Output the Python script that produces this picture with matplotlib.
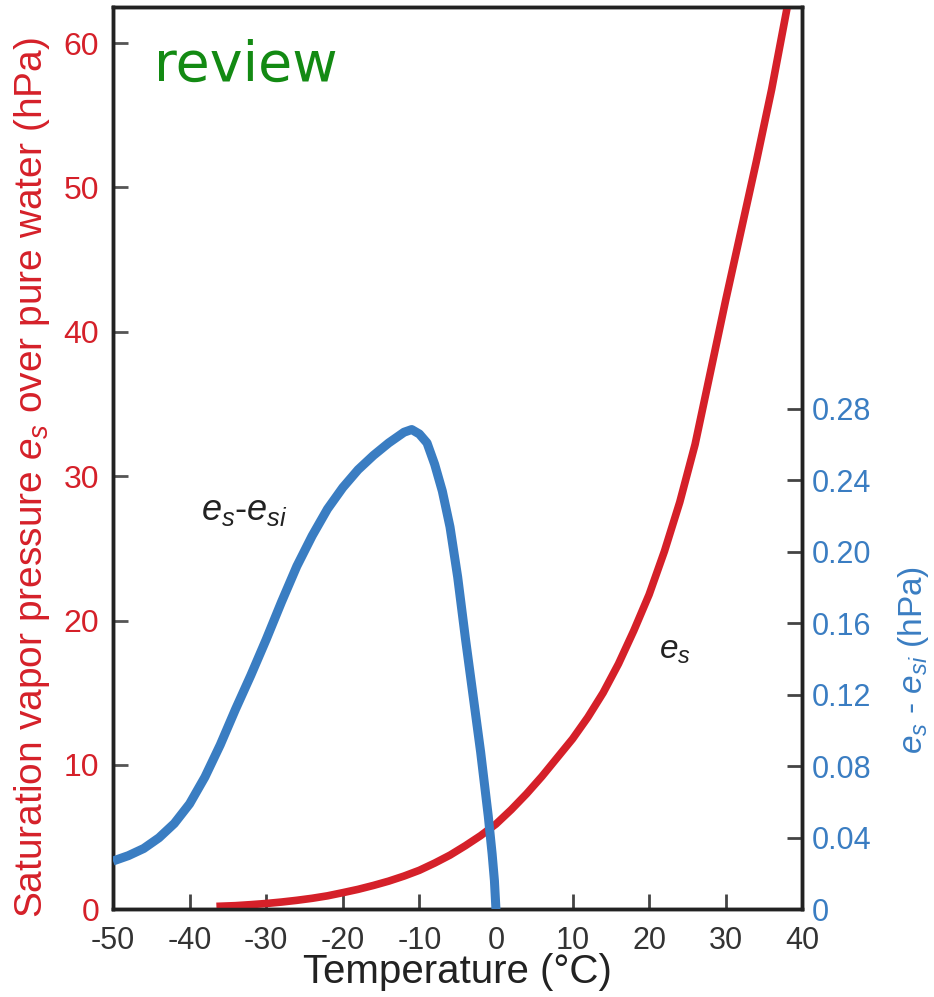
import numpy as np
import matplotlib
matplotlib.use('Agg')
import matplotlib.pyplot as plt

plt.rcParams['font.family'] = ['Liberation Sans Narrow', 'Liberation Sans', 'DejaVu Sans']
plt.rcParams['mathtext.fontset'] = 'custom'
plt.rcParams['mathtext.it'] = 'Liberation Sans:italic'
plt.rcParams['mathtext.rm'] = 'Liberation Sans'

# saturation vapour pressure over water (hPa)
temp_es = [-36.5, -34, -32, -30, -28, -26, -24, -22, -20, -18, -16, -14, -12, -10,
           -8, -6, -4, -2, 0, 2, 4, 6, 8, 10, 12, 14, 16, 18, 20, 22, 24, 26,
           28, 30, 32, 34, 36, 38]
es = [0.2, 0.25, 0.32, 0.4, 0.5, 0.62, 0.76, 0.93, 1.15, 1.38, 1.65, 1.95, 2.3, 2.7,
      3.2, 3.75, 4.4, 5.1, 5.9, 6.9, 8.0, 9.2, 10.5, 11.8, 13.3, 15.0, 17.0, 19.3,
      21.8, 24.8, 28.2, 32.2, 37.2, 42.2, 47.0, 51.8, 56.8, 62.4]

# es - esi (hPa), right axis
temp_diff = [-50, -48, -46, -44, -42, -40, -38, -36, -34, -32, -30, -28, -26, -24,
             -22, -20, -18, -16, -14, -13, -12, -11, -10, -9, -8, -7, -6, -5, -4,
             -3, -2, -1.5, -1, -0.5, -0.2, 0]
diff = [0.027, 0.030, 0.034, 0.040, 0.048, 0.059, 0.074, 0.092, 0.112, 0.131, 0.151,
        0.172, 0.192, 0.209, 0.224, 0.236, 0.246, 0.254, 0.261, 0.264, 0.267, 0.2685,
        0.266, 0.261, 0.249, 0.234, 0.214, 0.186, 0.152, 0.120, 0.088, 0.070, 0.052,
        0.031, 0.016, 0.0]

xticks = [-50, -40, -30, -20, -10, 0, 10, 20, 30, 40]
yticks_left = [0, 10, 20, 30, 40, 50, 60]
yticks_right = [0, 0.04, 0.08, 0.12, 0.16, 0.20, 0.24, 0.28]
yticklabels_right = ['0', '0.04', '0.08', '0.12', '0.16', '0.20', '0.24', '0.28']

red = '#d52029'
blue = '#3a7dc2'

fig = plt.figure(figsize=(9.34, 9.97), dpi=100)
ax = fig.add_axes([0.121, 0.088, 0.738, 0.905])
ax2 = ax.twinx()

ax.plot(temp_es, es, color=red, lw=5.5, solid_capstyle='butt',
        solid_joinstyle='round', zorder=3)
ax2.plot(temp_diff, diff, color=blue, lw=6.5, solid_capstyle='butt',
         solid_joinstyle='round', zorder=3)

ax.set_xlim(-50, 40)
ax.set_ylim(0, 62.5)
ax2.set_ylim(0, 0.505)

ax.set_xticks(xticks)
ax.set_xticklabels([str(t) for t in xticks])
ax.set_yticks(yticks_left)
ax.set_yticklabels([str(t) for t in yticks_left])
ax2.set_yticks(yticks_right)
ax2.set_yticklabels(yticklabels_right)

ax.tick_params(axis='x', direction='in', length=11, width=2, color='#444444',
               labelsize=22, labelcolor='#333333', pad=12)
ax.tick_params(axis='y', direction='in', length=11, width=2, color='#555555',
               labelsize=23, labelcolor=red, pad=10)
ax2.tick_params(axis='y', direction='in', length=11, width=2, color='#444444',
                labelsize=22, labelcolor=blue, pad=7)

for a in (ax, ax2):
    for s in a.spines.values():
        s.set_linewidth(2.5)
        s.set_color('#222222')

ax.set_xlabel('Temperature (°C)', fontsize=29, color='#222222', labelpad=-2)
ax.set_ylabel('Saturation vapor pressure $e_s$ over pure water (hPa)',
              fontsize=28, color=red)
ax.yaxis.set_label_coords(-0.088, 0.478)
fig.text(0.978, 0.338, '$e_s$ - $e_{si}$ (hPa)', rotation=90, fontsize=24,
         color=blue, ha='center', va='center')

ax.text(-32.8, 27.6, '$e_s$-$e_{si}$', fontsize=26, color='#222222',
        ha='center', va='center', zorder=4)
ax.text(23.4, 17.9, '$e_s$', fontsize=24, color='#222222',
        ha='center', va='center', zorder=4)

ax.text(0.06, 0.965, 'review', transform=ax.transAxes, fontsize=40,
        color='#138a13', family='DejaVu Sans', ha='left', va='top')

fig.savefig('out.png', dpi=100)
